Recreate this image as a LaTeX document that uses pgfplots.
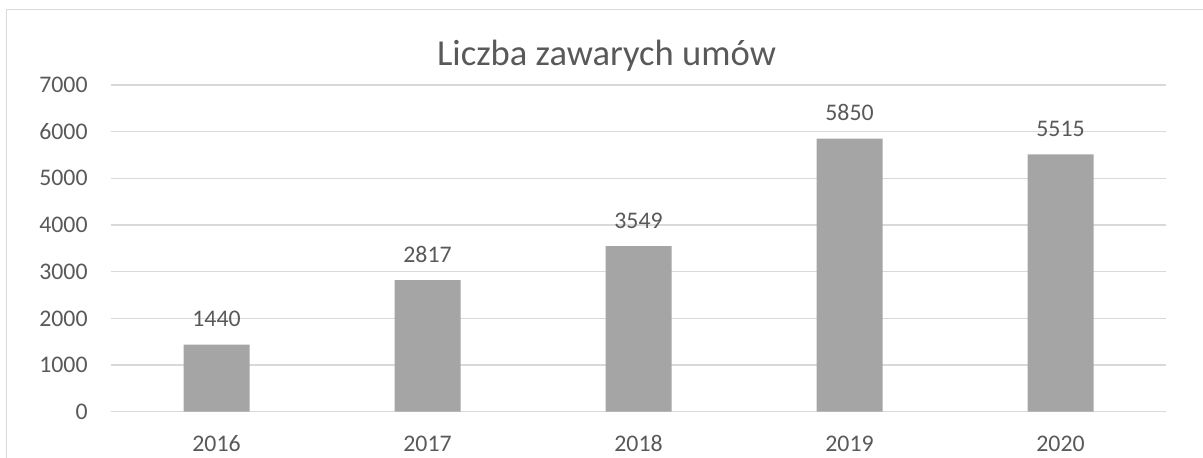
\documentclass[border=0pt]{standalone}
\usepackage{fontspec}
\setmainfont{Carlito}
\usepackage{pgfplots}
\pgfplotsset{compat=1.18}
\definecolor{TextGray}{HTML}{595959}
\definecolor{GridGray}{HTML}{D9D9D9}
\definecolor{BarGray}{HTML}{A5A5A5}
\begin{document}
\begin{tikzpicture}
% 1 px of the reference = 0.5pt
\useasboundingbox (0,0) rectangle (601.5pt,228.5pt);
\draw[GridGray,line width=0.75pt] (3.35pt,-5pt) -- (3.35pt,223.65pt) -- (615pt,223.65pt);
\node[anchor=base,inner sep=0pt,text=TextGray,font=\fontsize{18.3}{22}\selectfont]
  at (303.25pt,196pt) {Liczba zawarych umów};
\begin{axis}[
  at={(55.5pt,22.65pt)},anchor=south west,
  scale only axis,width=527.5pt,height=163.35pt,
  xmin=-0.5,xmax=4.5,ymin=0,ymax=7000,
  xtick={0,1,2,3,4},
  xticklabels={2016,2017,2018,2019,2020},
  ytick={0,1000,...,7000},
  ymajorgrids,
  grid style={GridGray,line width=0.75pt},
  axis line style={draw=none},
  major tick length=0pt,
  /pgf/number format/1000 sep={},
  /pgf/number format/assume math mode=true,
  tick label style={text=TextGray,font=\fontsize{11.9}{14}\selectfont,inner sep=0pt},
  yticklabel style={anchor=east,xshift=-11.5pt},
  xticklabel style={anchor=base,yshift=-19.65pt},
  ybar,bar width=33pt,
  nodes near coords,
  every node near coord/.append style={anchor=base,inner sep=0pt,yshift=9pt,
    text=TextGray,font=\fontsize{11.9}{14}\selectfont},
]
\addplot[fill=BarGray,draw=none]
  coordinates {(0,1440)(1,2817)(2,3549)(3,5850)(4,5515)};
\end{axis}
\end{tikzpicture}
\end{document}
